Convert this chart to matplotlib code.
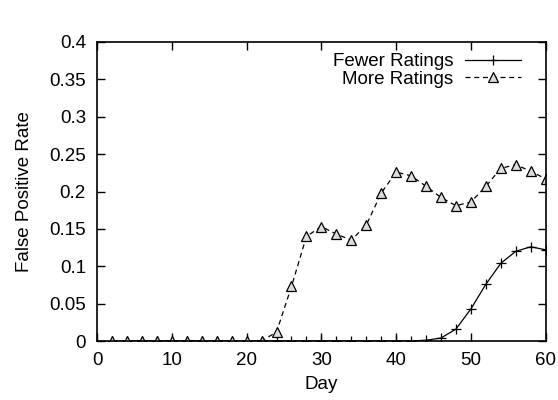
import matplotlib
matplotlib.use("Agg")
import matplotlib.pyplot as plt

days = list(range(2, 61, 2))

fewer_ratings = [0, 0, 0, 0, 0, 0, 0, 0, 0, 0,
                 0, 0, 0, 0, 0, 0, 0, 0, 0, 0,
                 0, 0.001, 0.004, 0.016, 0.043, 0.076, 0.104, 0.120, 0.126, 0.122]

more_ratings = [0, 0, 0, 0, 0, 0, 0, 0, 0, 0,
                0, 0.012, 0.073, 0.140, 0.153, 0.143, 0.135, 0.155, 0.198, 0.226,
                0.221, 0.207, 0.192, 0.181, 0.186, 0.207, 0.231, 0.236, 0.227, 0.217]

plt.rcParams["font.family"] = ["Liberation Sans", "DejaVu Sans"]
plt.rcParams["font.size"] = 13.5

fig = plt.figure(figsize=(5.58, 4.0), dpi=100)
ax = fig.add_axes([0.174, 0.1475, 0.804, 0.7475])

ax.plot(days, fewer_ratings, color="black", linewidth=0.9, marker="+",
        markersize=7, markeredgewidth=0.9, label="Fewer Ratings")
ax.plot(days, more_ratings, color="black", linewidth=0.9, linestyle=(0, (4, 3)),
        marker="^", markersize=6.5, markerfacecolor="#dcdcdc",
        markeredgecolor="black", markeredgewidth=0.9, label="More Ratings")

ax.set_xlim(0, 60)
ax.set_ylim(0, 0.4)
ax.set_xticks(range(0, 61, 10))
ax.set_yticks([0, 0.05, 0.1, 0.15, 0.2, 0.25, 0.3, 0.35, 0.4])
ax.set_yticklabels(["0", "0.05", "0.1", "0.15", "0.2", "0.25", "0.3", "0.35", "0.4"])
ax.tick_params(direction="in", top=True, right=True, length=6, width=1, pad=8)
for s in ax.spines.values():
    s.set_linewidth(1.2)

ax.set_xlabel("Day", labelpad=5)
ax.set_ylabel("False Positive Rate", labelpad=12)

ax.legend(loc="upper right", frameon=False, markerfirst=False,
          handlelength=3.0, handletextpad=0.6, borderaxespad=0.2,
          labelspacing=0.0, bbox_to_anchor=(0.97, 1.0))

plt.savefig("out.png", dpi=100)
